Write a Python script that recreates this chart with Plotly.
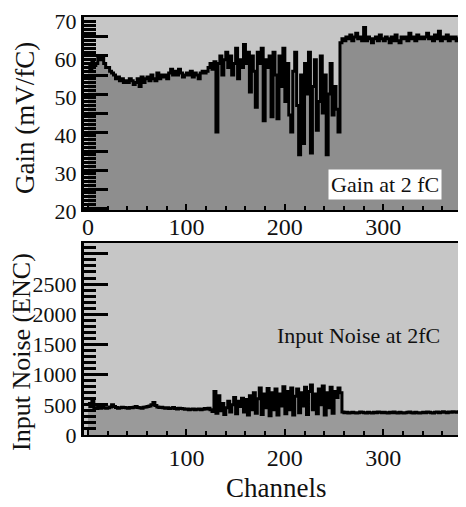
import plotly.graph_objects as go

# ---------------- data ----------------
channels = list(range(0, 384, 2))

gain = [
    # ch 0-18
    58, 56.5, 59, 57.5, 58, 59.5, 59, 59.5, 58, 57,
    # ch 20-38
    57, 56, 55.5, 55, 54, 54.5, 53.5, 54, 53, 53.5,
    # ch 40-58
    53, 54, 53.5, 52.5, 53, 54, 52, 54.5, 53, 54,
    # ch 60-78
    54.5, 53.5, 55, 54, 53.5, 55.5, 54, 55, 54.5, 55,
    # ch 80-98
    54, 55.5, 56.5, 55, 56, 55, 56.5, 55.5, 54.5, 55,
    # ch 100-118
    55.5, 55, 56, 54.5, 55.5, 55, 54, 55.5, 56, 55.5,
    # ch 120-128
    56, 57, 58, 56.5, 58.5,
    # ch 130-158
    40, 58, 60, 55, 59, 61, 57, 60, 55, 58, 62, 54, 59, 57, 63,
    # ch 160-188
    58, 61, 50.5, 60, 56, 46.5, 61, 58, 62, 43, 59, 57, 60, 44, 61,
    # ch 190-218
    55, 43.5, 60, 52, 62, 48, 58, 44.5, 40, 56, 61, 47, 34, 55, 37,
    # ch 220-254
    58, 50, 61, 34.5, 52, 59, 40.5, 48, 60, 45, 55, 34, 50, 58, 44.5, 52, 46, 40,
    # ch 256-298
    63.5, 64.5, 64, 65, 64.5, 65.5, 64, 65, 66, 64.5, 65, 64, 67.5, 64, 65, 64.5,
    63.5, 64.5, 65, 64, 65.5, 64.5,
    # ch 300-338
    64, 65, 64.5, 63.5, 65, 64, 65.5, 64, 63.5, 65, 64.5, 65, 64, 66, 64.5, 65,
    64, 65.5, 64.5, 65,
    # ch 340-382
    64.5, 65, 66, 64.5, 65, 64, 65.5, 64.5, 66.5, 64, 65, 64.5, 65.5, 64, 65, 64.5,
    65, 64, 64.5, 65, 64, 59.5,
]

noise = [
    # ch 0-18
    520, 470, 560, 450, 440, 455, 445, 460, 450, 445,
    # ch 20-38
    450, 465, 500, 470, 455, 445, 450, 460, 455, 450,
    # ch 40-58
    445, 455, 450, 460, 470, 455, 450, 445, 460, 465,
    # ch 60-78
    470, 480, 500, 540, 490, 465, 455, 460, 450, 445,
    # ch 80-98
    450, 440, 445, 455, 440, 430, 445, 440, 435, 425,
    # ch 100-118
    430, 420, 425, 430, 420, 425, 430, 420, 425, 440,
    # ch 120-128
    430, 445, 420, 390, 720,
    # ch 130-158
    360, 650, 400, 520, 340, 450, 560, 380, 500, 620, 350, 560, 470, 610, 380,
    # ch 160-188
    590, 330, 650, 420, 700, 360, 600, 780, 340, 680, 450, 770, 320, 700, 420,
    # ch 190-218
    760, 330, 680, 480, 800, 350, 720, 420, 780, 330, 640, 760, 370, 700, 480,
    # ch 220-254
    790, 340, 720, 830, 420, 680, 350, 760, 500, 810, 330, 700, 450, 790, 360, 720, 620, 780,
    # ch 256-298
    700, 380, 370, 375, 365, 370, 375, 370, 365, 370, 380, 375, 370, 365, 375, 370,
    365, 375, 370, 380, 375, 370,
    # ch 300-338
    375, 370, 365, 375, 370, 380, 370, 365, 375, 370, 365, 370, 375, 380, 370, 365,
    375, 370, 365, 370,
    # ch 340-382
    375, 370, 380, 375, 370, 365, 375, 380, 370, 375, 385, 375, 370, 380, 375, 385,
    380, 375, 385, 380, 390, 385,
]

x_tick_vals = [0, 100, 200, 300]
x_tick_text_top = ["0", "100", "200", "300"]
x_tick_text_bottom = ["", "100", "200", "300"]
gain_tick_vals = [20, 25, 30, 35, 40, 45, 50, 55, 60, 65, 70]
gain_tick_text = ["20", "", "30", "", "40", "", "50", "", "60", "", "70"]
noise_tick_vals = [0, 500, 1000, 1500, 2000, 2500, 3000]
noise_tick_text = ["0", "500", "1000", "1500", "2000", "2500", ""]

# ---------------- figure ----------------
FONT = "Liberation Serif, Times New Roman, serif"
OFF = 8                      # page offset of the plot div (body margin)
W, H = 466 - OFF, 507 - OFF  # figure size so that it fills the window
L = 84 - OFF                 # left margin (page x of axis = 84)
PW = W - L                   # plot width in px

fig = go.Figure()
fig.add_trace(go.Scatter(
    x=channels, y=gain, mode="lines", line=dict(color="black", width=3, shape="hv"),
    fill="tozeroy", fillcolor="#8e8e8e", xaxis="x", yaxis="y", showlegend=False))
fig.add_trace(go.Scatter(
    x=channels, y=noise, mode="lines", line=dict(color="black", width=3, shape="hv"),
    fill="tozeroy", fillcolor="#9a9a9a", xaxis="x2", yaxis="y2", showlegend=False))


def py(page_y):
    return 1 - (page_y - OFF) / H


def px(page_x):
    return (page_x - 84) / PW


top_dom = [py(210), py(17)]
bot_dom = [py(435), py(243)]

common_x = dict(
    range=[-4, 384], showgrid=False, zeroline=False, showline=True, linecolor="black",
    linewidth=2, mirror=True, ticks="inside", ticklen=6, tickwidth=1.5, tickcolor="black",
    tickvals=x_tick_vals, tickfont=dict(family=FONT, size=24, color="#111"),
    minor=dict(dtick=20, ticks="inside", ticklen=4, tickwidth=1.5, tickcolor="black"),
    automargin=False, fixedrange=True,
)
common_y = dict(
    showgrid=False, zeroline=False, showline=True, linecolor="black", linewidth=3,
    mirror=False, ticks="inside", ticklen=24, tickwidth=2.5, tickcolor="black",
    tickfont=dict(family=FONT, size=22, color="#111"), automargin=False, fixedrange=True,
    ticklabeloverflow="allow",
)

fig.update_layout(
    width=W, height=H,
    margin=dict(l=L, r=0, t=0, b=0),
    paper_bgcolor="white", plot_bgcolor="#c6c6c6",
    xaxis=dict(**common_x, domain=[0, 1], anchor="y", ticktext=x_tick_text_top,
               ticklabelstandoff=-6),
    yaxis=dict(**common_y, domain=top_dom, anchor="x", range=[19.5, 70.25],
               tickvals=gain_tick_vals, ticktext=gain_tick_text, ticklabelshift=3,
               minor=dict(dtick=1, ticks="inside", ticklen=12, tickwidth=2.5, tickcolor="black")),
    xaxis2=dict(**common_x, domain=[0, 1], anchor="y2", ticktext=x_tick_text_bottom,
                ticklabelstandoff=0),
    yaxis2=dict(**common_y, domain=bot_dom, anchor="x2", range=[0, 3180],
                tickvals=noise_tick_vals, ticktext=noise_tick_text,
                minor=dict(dtick=100, ticks="inside", ticklen=12, tickwidth=2.5, tickcolor="black")),
    annotations=[
        dict(text="Gain (mV/fC)", xref="paper", yref="paper", x=px(25), y=py(118),
             textangle=-90, showarrow=False, font=dict(family=FONT, size=27, color="#111"),
             xanchor="center", yanchor="middle"),
        dict(text="Input Noise (ENC)", xref="paper", yref="paper", x=px(21), y=py(352),
             textangle=-90, showarrow=False, font=dict(family=FONT, size=26, color="#111"),
             xanchor="center", yanchor="middle"),
        dict(text="Channels", xref="paper", yref="paper", x=px(276), y=py(488),
             showarrow=False, font=dict(family=FONT, size=27, color="#111"),
             xanchor="center", yanchor="middle"),
        dict(text="Gain at 2 fC", xref="paper", yref="paper", x=px(385), y=py(184),
             showarrow=False, font=dict(family=FONT, size=22, color="#111"),
             bgcolor="white", borderpad=2, xanchor="center", yanchor="middle"),
        dict(text="Input Noise at 2fC", xref="paper", yref="paper", x=px(358), y=py(335),
             showarrow=False, font=dict(family=FONT, size=22, color="#111"),
             xanchor="center", yanchor="middle"),
    ],
)

fig.write_html("out.html")
